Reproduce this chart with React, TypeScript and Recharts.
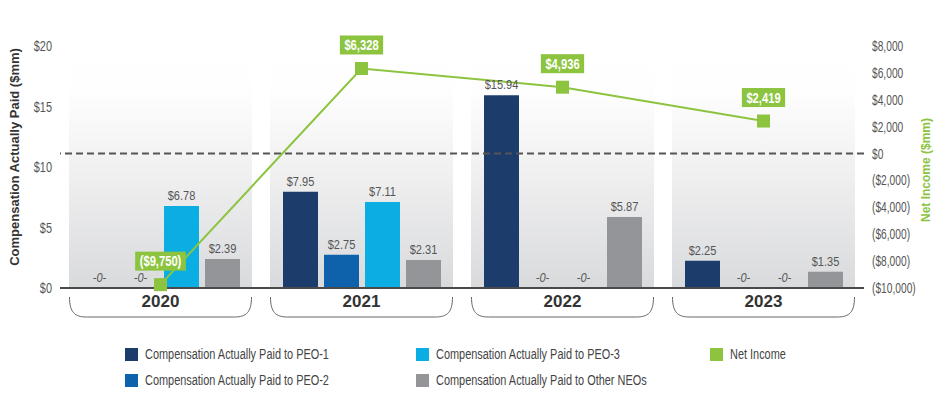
import React from 'react';
import { ComposedChart, Bar, Line, XAxis, YAxis, ReferenceLine, ReferenceArea, LabelList } from 'recharts';

const years = ['2020', '2021', '2022', '2023'];
const peo1 = [0, 7.95, 15.94, 2.25];
const peo2 = [0, 2.75, 0, 0];
const peo3 = [6.78, 7.11, 0, 0];
const otherNeos = [2.39, 2.31, 5.87, 1.35];
const netIncome = [-9750, 6328, 4936, 2419];
const leftTicks = [0, 5, 10, 15, 20];
const rightTicks = [-10000, -8000, -6000, -4000, -2000, 0, 2000, 4000, 6000, 8000];

const data = years.map((year, i) => ({
  year,
  peo1: peo1[i],
  peo2: peo2[i],
  peo3: peo3[i],
  other: otherNeos[i],
  net: netIncome[i],
}));

const SANS = "'Liberation Sans', Arial, sans-serif";

const C_PEO1 = '#1c3c6c';
const C_PEO2 = '#0d62ab';
const C_PEO3 = '#0aaee3';
const C_OTHER = '#939598';
const C_GREEN = '#8cc43f';

const fmtThousands = (n: number) => String(Math.abs(n)).replace(/\B(?=(\d{3})+(?!\d))/g, ',');
const fmtNet = (v: number) => (v < 0 ? `($${fmtThousands(v)})` : `$${fmtThousands(v)}`);

const charW = (s: string) =>
  s.split('').reduce((a, c) => a + (c === ',' || c === '.' ? 0.278 : c === '(' || c === ')' ? 0.333 : 0.556), 0);

// condensed text: a normal face squeezed horizontally
const CText = (props: any) => {
  const { x, y, sx = 0.8, children, ...rest } = props;
  return (
    <text transform={`translate(${x},${y}) scale(${sx},1)`} x={0} y={0} {...rest}>
      {children}
    </text>
  );
};

const PanelShape = (props: any) => {
  const { x, y, width, height } = props;
  const inset = 9;
  return (
    <g>
      <defs>
        <linearGradient id="panelGrad" x1="0" y1="0" x2="0" y2="1">
          <stop offset="0%" stopColor="#ffffff" />
          <stop offset="18%" stopColor="#fefefe" />
          <stop offset="50%" stopColor="#f1f1f2" />
          <stop offset="100%" stopColor="#d9dadc" />
        </linearGradient>
      </defs>
      <rect x={x + inset} y={y} width={width - 2 * inset} height={height} fill="url(#panelGrad)" />
    </g>
  );
};

const BarValueLabel = (props: any) => {
  const { x, y, width, height, value } = props;
  const cx = x + width / 2;
  const top = Math.min(y, y + height);
  if (!value) {
    return (
      <CText x={cx} y={top - 6} sx={0.85} textAnchor="middle" fontFamily={SANS} fontSize={13} fontStyle="italic" fill="#555">
        -0-
      </CText>
    );
  }
  return (
    <CText x={cx} y={top - 6} sx={0.85} textAnchor="middle" fontFamily={SANS} fontSize={13} fill="#555">
      {`$${Number(value).toFixed(2)}`}
    </CText>
  );
};

const NetLabel = (props: any) => {
  const { x, y, value } = props;
  const text = fmtNet(Number(value));
  const w = charW(text) * 14 * 0.8 + 9;
  return (
    <g>
      <rect x={x - w / 2} y={y - 33} width={w} height={19} fill={C_GREEN} />
      <CText x={x} y={y - 18.5} sx={0.8} textAnchor="middle" fontFamily={SANS} fontWeight="bold" fontSize={14} fill="#fff">
        {text}
      </CText>
    </g>
  );
};

const SquareDot = (props: any) => {
  const { cx, cy } = props;
  if (cx == null || cy == null) return null;
  return <rect x={cx - 6.5} y={cy - 6.5} width={13} height={13} fill={C_GREEN} />;
};

const LeftTick = (props: any) => {
  const { x, y, payload } = props;
  return (
    <CText x={x} y={y + 5} sx={0.78} textAnchor="end" fontFamily={SANS} fontSize={14} fill="#555">
      {`$${payload.value}`}
    </CText>
  );
};

const RightTick = (props: any) => {
  const { x, y, payload } = props;
  return (
    <CText x={x} y={y + 5} sx={0.73} textAnchor="start" fontFamily={SANS} fontSize={14} fill="#555">
      {fmtNet(payload.value)}
    </CText>
  );
};

const YearTick = (props: any) => {
  const { x, y, payload } = props;
  const half = 91;
  return (
    <g>
      <text x={x} y={y + 19} textAnchor="middle" fontFamily={SANS} fontWeight="bold" fontSize={17} fill="#333">
        {payload.value}
      </text>
      <path
        d={`M ${x - half} ${y + 9} C ${x - half} ${y + 24} ${x - half + 5} ${y + 29} ${x - half + 17} ${y + 29} L ${x + half - 17} ${y + 29} C ${x + half - 5} ${y + 29} ${x + half} ${y + 24} ${x + half} ${y + 9}`}
        fill="none"
        stroke="#666"
        strokeWidth={1}
      />
    </g>
  );
};

const legendItems = [
  { label: 'Compensation Actually Paid to PEO-1', color: C_PEO1, left: 125, top: 346 },
  { label: 'Compensation Actually Paid to PEO-2', color: C_PEO2, left: 125, top: 372 },
  { label: 'Compensation Actually Paid to PEO-3', color: C_PEO3, left: 416, top: 346 },
  { label: 'Compensation Actually Paid to Other NEOs', color: C_OTHER, left: 416, top: 372 },
  { label: 'Net Income', color: C_GREEN, left: 710, top: 346 },
];

export default function App() {
  return (
    <div style={{ position: 'absolute', left: 0, top: 0, width: 939, height: 396, background: '#fff' }}>
      <ComposedChart
        width={939}
        height={332}
        data={data}
        margin={{ top: 46, right: 0, bottom: 0, left: 0 }}
        barCategoryGap={21}
        barGap={6}
      >
        <XAxis
          dataKey="year"
          xAxisId="x"
          axisLine={{ stroke: '#4a4a4a', strokeWidth: 2 }}
          tickLine={false}
          tickSize={0}
          tickMargin={0}
          height={44}
          tick={<YearTick />}
          interval={0}
        />
        <YAxis
          yAxisId="left"
          orientation="left"
          width={60}
          domain={[0, 20]}
          ticks={leftTicks}
          axisLine={false}
          tickLine={false}
          tick={<LeftTick />}
        />
        <YAxis
          yAxisId="right"
          orientation="right"
          width={75}
          domain={[-10000, 8000]}
          ticks={rightTicks}
          axisLine={false}
          tickLine={false}
          tick={<RightTick />}
        />
        {years.map((yr) => (
          <ReferenceArea key={yr} xAxisId="x" yAxisId="left" x1={yr} x2={yr} shape={<PanelShape />} ifOverflow="visible" />
        ))}
        <ReferenceLine xAxisId="x" yAxisId="right" y={0} stroke="#555" strokeWidth={2} strokeDasharray="7 4" />
        <Bar xAxisId="x" yAxisId="left" dataKey="peo1" name="Compensation Actually Paid to PEO-1" fill={C_PEO1} barSize={35} minPointSize={0.01} isAnimationActive={false}>
          <LabelList dataKey="peo1" content={<BarValueLabel />} />
        </Bar>
        <Bar xAxisId="x" yAxisId="left" dataKey="peo2" name="Compensation Actually Paid to PEO-2" fill={C_PEO2} barSize={35} minPointSize={0.01} isAnimationActive={false}>
          <LabelList dataKey="peo2" content={<BarValueLabel />} />
        </Bar>
        <Bar xAxisId="x" yAxisId="left" dataKey="peo3" name="Compensation Actually Paid to PEO-3" fill={C_PEO3} barSize={35} minPointSize={0.01} isAnimationActive={false}>
          <LabelList dataKey="peo3" content={<BarValueLabel />} />
        </Bar>
        <Bar xAxisId="x" yAxisId="left" dataKey="other" name="Compensation Actually Paid to Other NEOs" fill={C_OTHER} barSize={35} minPointSize={0.01} isAnimationActive={false}>
          <LabelList dataKey="other" content={<BarValueLabel />} />
        </Bar>
        <Line
          xAxisId="x"
          yAxisId="right"
          dataKey="net"
          name="Net Income"
          stroke={C_GREEN}
          strokeWidth={2}
          dot={<SquareDot />}
          activeDot={false}
          isAnimationActive={false}
        >
          <LabelList dataKey="net" content={<NetLabel />} />
        </Line>
        <text
          transform="translate(19,157) rotate(-90)"
          textAnchor="middle"
          fontFamily={SANS}
          fontWeight="bold"
          fontSize={13}
          fill="#333"
        >
          Compensation Actually Paid ($mm)
        </text>
        <text
          transform="translate(930,170) rotate(-90)"
          textAnchor="middle"
          fontFamily={SANS}
          fontWeight="bold"
          fontSize={12}
          fill={C_GREEN}
        >
          Net Income ($mm)
        </text>
      </ComposedChart>
      {legendItems.map((it) => (
        <div
          key={it.label}
          style={{ position: 'absolute', left: it.left, top: it.top, display: 'flex', alignItems: 'center', height: 16 }}
        >
          <div style={{ width: 13, height: 13, background: it.color, marginRight: 7, flex: 'none' }} />
          <span
            style={{
              fontFamily: SANS,
              fontSize: 14,
              color: '#444',
              whiteSpace: 'nowrap',
              display: 'inline-block',
              transform: 'scaleX(0.78)',
              transformOrigin: 'left center',
            }}
          >
            {it.label}
          </span>
        </div>
      ))}
    </div>
  );
}
